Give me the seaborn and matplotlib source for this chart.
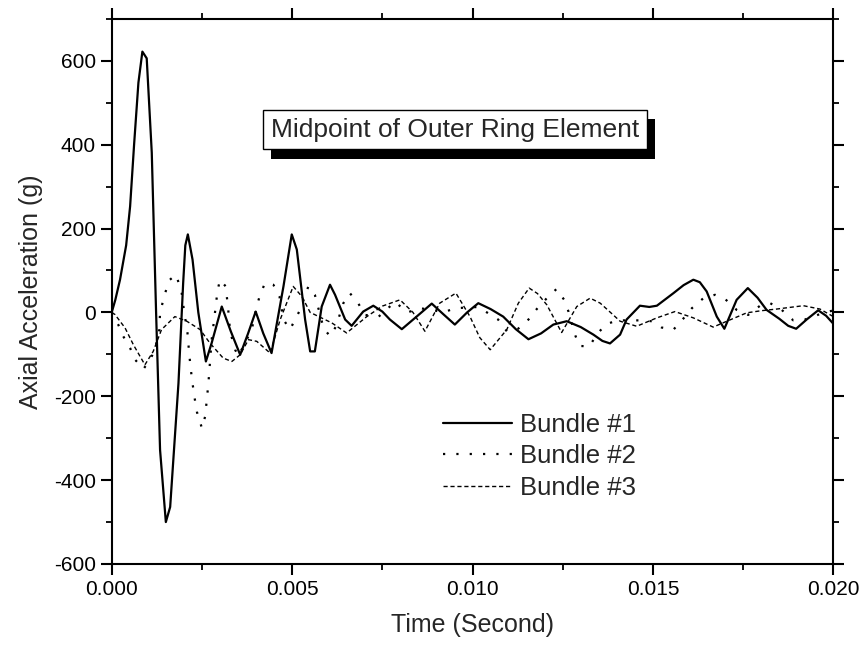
import matplotlib
matplotlib.use("Agg")
import matplotlib.pyplot as plt
import matplotlib.patheffects as pe
from matplotlib.ticker import MultipleLocator
import numpy as np
import seaborn as sns

# time in ms, acceleration in g
t1 = [0, 0.1, 0.23, 0.4, 0.51, 0.62, 0.74, 0.85, 0.97, 1.11, 1.23, 1.34, 1.50, 1.62,
      1.85, 1.98, 2.04, 2.11, 2.24, 2.40, 2.61, 2.77, 3.05, 3.3, 3.56, 3.78, 3.99,
      4.2, 4.43, 4.76, 4.99, 5.13, 5.36, 5.50, 5.63, 5.82, 6.05, 6.19, 6.47, 6.65,
      6.97, 7.25, 7.5, 7.71, 8.04, 8.45, 8.87, 9.20, 9.51, 9.85, 10.16, 10.5, 10.85,
      11.2, 11.55, 11.9, 12.24, 12.61, 13.0, 13.35, 13.6, 13.81, 14.09, 14.27, 14.64,
      14.9, 15.11, 15.57, 15.85, 16.12, 16.3, 16.49, 16.77, 16.98, 17.32, 17.63, 17.9,
      18.15, 18.5, 18.75, 18.97, 19.26, 19.58, 19.8, 20.0]
b1 = [0, 30, 78, 160, 253, 400, 548, 622, 606, 381, 0, -328, -500, -464,
      -169, 70, 160, 186, 126, 0, -117, -73, 14, -45, -101, -50, 2,
      -50, -97, 62, 186, 150, -17, -93, -93, 14, 66, 42, -17, -32,
      2, 16, 2, -17, -40, -10, 21, -5, -29, 0, 22, 8, -10,
      -40, -64, -50, -29, -21, -35, -53, -68, -74, -53, -17, 16,
      13, 16, 46, 65, 78, 72, 50, -10, -39, 30, 58, 35,
      6, -15, -32, -39, -17, 5, -8, -27]

t2 = [0, 0.18, 0.32, 0.51, 0.65, 0.88, 1.06, 1.20, 1.32, 1.34, 1.48, 1.60, 1.78, 1.89,
      1.94, 2.00, 2.10, 2.15, 2.22, 2.29, 2.36, 2.50, 2.59, 2.68, 2.77, 2.86, 2.93,
      3.00, 3.16, 3.23, 3.28, 3.42, 3.51, 3.88, 4.02, 4.11, 4.25, 4.48, 4.65, 4.76,
      4.94, 5.22, 5.45, 5.63, 5.87, 6.05, 6.22, 6.42, 6.60, 6.83, 7.02, 7.4, 7.85,
      8.2, 8.54, 8.87, 9.2, 9.51, 10.16, 10.71, 10.95, 11.25, 11.55, 11.78, 12.06,
      12.33, 12.54, 12.66, 12.84, 12.96, 13.24, 13.44, 13.69, 14.0, 14.64, 14.97,
      15.24, 15.57, 15.84, 16.08, 16.40, 16.72, 17.0, 17.32, 17.64, 17.97, 18.25,
      18.57, 18.89, 19.21, 19.6, 20.0]
b2 = [0, -29, -57, -85, -113, -135, -113, -89, -41, 0, 46, 77, 90, 62,
      46, 6, -49, -101, -157, -200, -237, -276, -248, -169, -65, -2, 50,
      78, 62, 6, -45, -89, -104, -41, 14, 42, 70, 66, 38, -17,
      -41, 6, 62, 42, -37, -57, -33, 22, 46, 22, -6, -10, 25,
      0, 10, 6, 0, 10, 13, -17, -45, -40, -17, 8, 34,
      56, 30, 2, -53, -80, -81, -53, -29, -19, -19, -21,
      -36, -41, -15, 10, 34, 42, 32, 6, -6, 16, 22,
      6, -19, -17, -5, 5]

t3 = [0, 0.09, 0.37, 0.60, 0.92, 1.15, 1.38, 1.75, 2.08, 2.45, 2.72, 3.09, 3.33, 3.56,
      3.79, 4.02, 4.39, 4.67, 5.03, 5.27, 5.50, 6.1, 6.51, 7.07, 7.5, 7.99, 8.35,
      8.68, 9.09, 9.54, 9.93, 10.2, 10.49, 10.95, 11.27, 11.57, 11.8, 12.06, 12.47,
      12.89, 13.26, 13.54, 13.90, 14.09, 14.55, 15.11, 15.61, 16.12, 16.67, 17.05,
      17.60, 18.0, 18.43, 19.17, 19.63, 20.0]
b3 = [0, -5, -37, -77, -125, -93, -41, -10, -21, -41, -73, -109, -117, -101,
      -65, -69, -97, -17, 62, 38, 0, -25, -49, -10, 15, 30, 0,
      -45, 22, 46, -10, -60, -89, -41, 22, 58, 45, 18, -48,
      14, 34, 22, -6, -21, -33, -13, 2, -13, -35, -21,
      -1, 4, 8, 16, 8, -10]

labels = ["Bundle #1", "Bundle #2", "Bundle #3"]

sns.set_style("ticks")
plt.rcParams["font.family"] = ["Liberation Sans", "DejaVu Sans"]
plt.rcParams["axes.unicode_minus"] = False

fig = plt.figure(figsize=(8.64, 6.52), dpi=100)
ax = fig.add_axes([0.1293, 0.135, 0.8352, 0.836])

sns.lineplot(x=np.array(t1) / 1000, y=b1, ax=ax, color="black", lw=1.6,
             estimator=None, sort=False, label=labels[0])
sns.lineplot(x=np.array(t2) / 1000, y=b2, ax=ax, color="black", lw=1.6,
             linestyle=(0, (1, 5)), estimator=None, sort=False, label=labels[1])
sns.lineplot(x=np.array(t3) / 1000, y=b3, ax=ax, color="black", lw=1.0,
             linestyle=(0, (3, 2)), estimator=None, sort=False, label=labels[2])

ax.set_xlim(0, 0.02)
ax.set_ylim(-600, 700)
ax.xaxis.set_minor_locator(MultipleLocator(0.0025))
ax.yaxis.set_minor_locator(MultipleLocator(100))
ax.set_xticks([0, 0.005, 0.01, 0.015, 0.02])
ax.set_xticklabels(["0.000", "0.005", "0.010", "0.015", "0.020"])
ax.set_yticks([-600, -400, -200, 0, 200, 400, 600])

for s in ax.spines.values():
    s.set_linewidth(1.5)
    s.set_color("black")
ax.tick_params(which="both", direction="out", top=True, right=True,
               labeltop=False, labelright=False, colors="black", labelsize=15)
ax.tick_params(which="major", length=8, width=1.5)
ax.tick_params(which="minor", length=4, width=1.3)

ax.set_xlabel("Time (Second)", fontsize=18, labelpad=10)
ax.set_ylabel("Axial Acceleration (g)", fontsize=18, labelpad=8)

leg = ax.legend(loc="upper left", bbox_to_anchor=(0.459, 0.2776), frameon=False,
                fontsize=18.5, handlelength=2.69, handletextpad=0.31,
                labelspacing=0.29, borderpad=0, borderaxespad=0)

txt = ax.text(0.476, 0.797, "Midpoint of Outer Ring Element", transform=ax.transAxes,
              ha="center", va="center", fontsize=19,
              bbox=dict(boxstyle="square,pad=0.3", fc="white", ec="black", lw=1))
txt.get_bbox_patch().set_path_effects([
    pe.SimplePatchShadow(offset=(5.5, -6.7), shadow_rgbFace="black", alpha=1),
    pe.Normal()])

fig.savefig("out.png", dpi=100)
